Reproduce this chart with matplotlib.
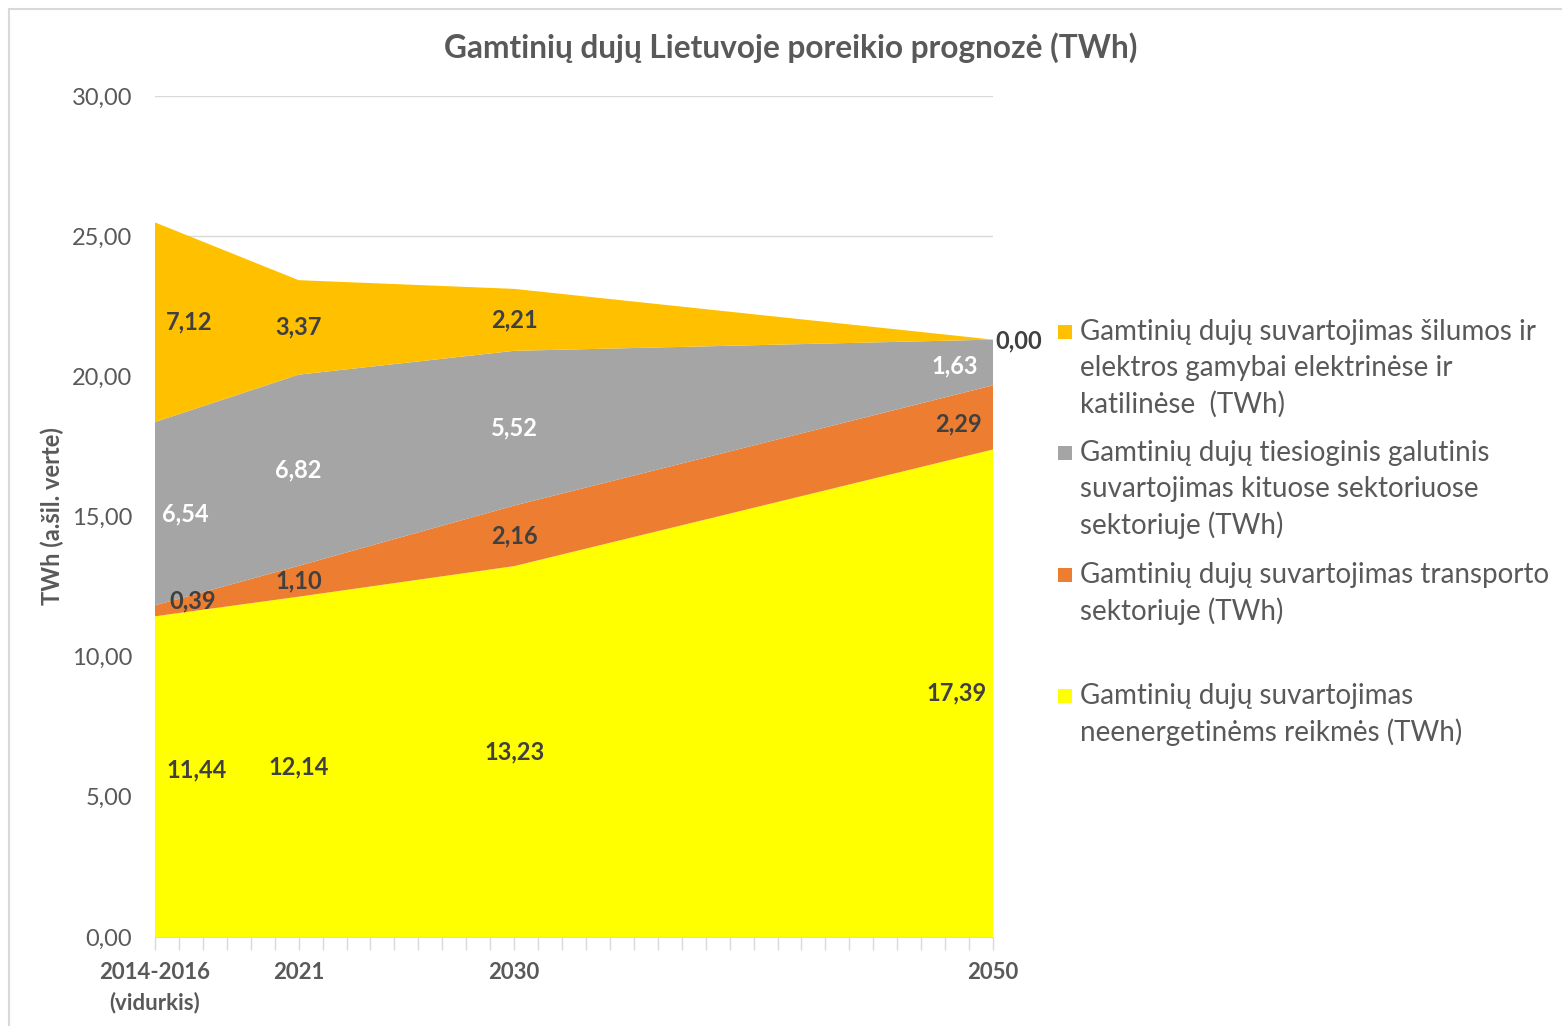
import matplotlib
matplotlib.use("Agg")
import matplotlib.pyplot as plt
from matplotlib.patches import Rectangle
import numpy as np

# ---- data ----
years = [2015, 2021, 2030, 2050]
tick_labels = ["2014-2016\n(vidurkis)", "2021", "2030", "2050"]
neenerget = [11.44, 12.14, 13.23, 17.39]
transport = [0.39, 1.10, 2.16, 2.29]
tiesiog = [6.54, 6.82, 5.52, 1.63]
silumos = [7.12, 3.37, 2.21, 0.00]

series = [neenerget, transport, tiesiog, silumos]
colors = ["#FFFF00", "#ED7D31", "#A5A5A5", "#FFC000"]
label_colors = ["#404040", "#404040", "#FFFFFF", "#404040"]
legend_labels = [
    "Gamtinių dujų suvartojimas šilumos ir\nelektros gamybai elektrinėse ir\nkatilinėse  (TWh)",
    "Gamtinių dujų tiesioginis galutinis\nsuvartojimas kituose sektoriuose\nsektoriuje (TWh)",
    "Gamtinių dujų suvartojimas transporto\nsektoriuje (TWh)",
    "Gamtinių dujų suvartojimas\nneenergetinėms reikmės (TWh)",
]
legend_colors = ["#FFC000", "#A5A5A5", "#ED7D31", "#FFFF00"]

title = "Gamtinių dujų Lietuvoje poreikio prognozė (TWh)"
ylabel = "TWh (a.šil. verte)"

plt.rcParams["font.family"] = ["Lato", "DejaVu Sans"]
TXT = "#595959"

W, H = 1562, 1026
fig = plt.figure(figsize=(W / 100, H / 100), dpi=100)

# chart border (only left/top edges visible in the crop)
fig.patches.append(Rectangle((9 / W, -0.1), 1.2, 1.1 - 9 / H, transform=fig.transFigure,
                             fill=False, edgecolor="#D9D9D9", linewidth=1.5))

ax = fig.add_axes([155 / W, 1 - 937 / H, (993 - 155) / W, (937 - 96) / H])

x = np.array(years)
ax.stackplot(x, *series, colors=colors, linewidth=0, zorder=2)

ax.set_xlim(2015, 2050)
ax.set_ylim(0, 30)
yt = np.arange(0, 31, 5)
ax.set_yticks(yt)
ax.set_yticklabels([f"{v:.2f}".replace(".", ",") for v in yt], fontsize=17, color=TXT)
ax.yaxis.grid(True, color="#D9D9D9", linewidth=1, zorder=0)
ax.set_axisbelow(True)
ax.tick_params(axis="y", length=0, pad=16.5)

ax.set_xticks(years)
ax.set_xticklabels(tick_labels, fontsize=16, fontweight="bold", color=TXT,
                   linespacing=1.5)
ax.set_xticks(np.arange(2015, 2051, 1), minor=True)
ax.tick_params(axis="x", which="both", length=9, color="#D9D9D9", width=1, pad=9)

for s in ["top", "right", "left"]:
    ax.spines[s].set_visible(False)
ax.spines["bottom"].set_color("#D9D9D9")

ax.set_ylabel(ylabel, fontsize=17, fontweight="bold", color=TXT)
ax.yaxis.set_label_coords(-0.109, 0.5)

fig.text(791 / W, 1 - 48 / H, title, ha="center", va="center",
         fontsize=22.8, fontweight="bold", color=TXT)

# data labels: pixel offsets from the segment midpoint
offsets = {
    (0, 2015): (42, 7), (1, 2015): (38, 10), (2, 2015): (30, 0), (3, 2015): (34, 0),
    (0, 2050): (-36, 0), (1, 2050): (-34, -7), (2, 2050): (-38, -3), (3, 2050): (26, -1),
}
cum = np.zeros(len(years))
for k, (vals, lc) in enumerate(zip(series, label_colors)):
    vals = np.array(vals)
    for i, yr in enumerate(years):
        mid = cum[i] + vals[i] / 2
        dx, dy = offsets.get((k, yr), (0, 0))
        c = lc if vals[i] != 0 else "#404040"
        ax.annotate(f"{vals[i]:.2f}".replace(".", ","), (yr, mid),
                    xytext=(dx * 0.72, dy * 0.72), textcoords="offset points",
                    ha="center", va="center", fontsize=17, fontweight="bold",
                    color=c, zorder=5, annotation_clip=False)
    cum += vals

# legend (manual)
starts = [332, 453, 575, 696]
line_h = 36.3
for lab, col, y0 in zip(legend_labels, legend_colors, starts):
    fig.patches.append(Rectangle((1058 / W, 1 - (y0 + 7) / H), 14 / W, 14 / H,
                                 transform=fig.transFigure, facecolor=col,
                                 edgecolor="none"))
    for j, line in enumerate(lab.split("\n")):
        fig.text(1080 / W, 1 - (y0 + j * line_h) / H, line, ha="left", va="center",
                 fontsize=20, color=TXT)

fig.savefig("out.png", dpi=100)
